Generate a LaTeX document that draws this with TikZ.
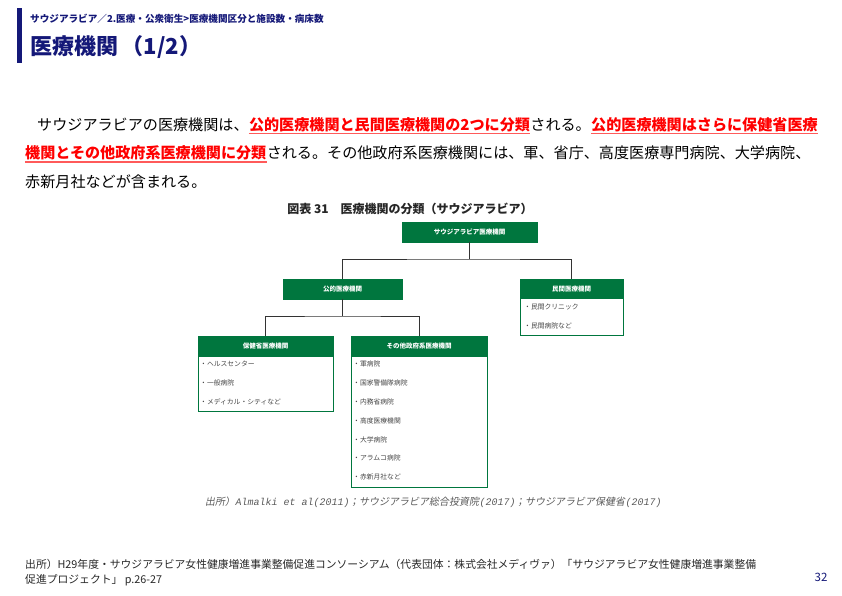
\documentclass[tikz,border=0pt]{standalone}
\usepackage{fontspec}
\setmainfont{Noto Sans CJK JP}
\newfontfamily\cjkslant[FakeSlant=0.18]{Noto Sans CJK JP}
\newfontfamily\srcmono[FakeSlant=0.18]{Liberation Mono}
\usetikzlibrary{calc}
\definecolor{navy}{RGB}{20,24,120}
\definecolor{hgreen}{RGB}{0,118,62}
\definecolor{redtxt}{RGB}{255,0,0}
\definecolor{uline}{RGB}{255,90,90}
\definecolor{itemgray}{RGB}{70,70,70}
\definecolor{srcgray}{RGB}{90,90,90}
\definecolor{foot}{RGB}{40,40,40}
\tikzset{
  para/.style={inner sep=0pt, anchor=base west, font=\fontsize{15.1}{18}\selectfont, text=black},
  redpart/.style={para, font=\bfseries\fontsize{15.1}{18}\selectfont, text=redtxt},
  ulinestyle/.style={draw=uline, line width=1.6pt},
  hdr/.style={fill=hgreen, draw=hgreen, line width=0.8pt, text=white, font=\bfseries\fontsize{6.5}{7}\selectfont, minimum height=20pt, inner sep=0pt},
  bodybox/.style={draw=hgreen, line width=0.8pt, fill=white, inner sep=0pt},
  item/.style={anchor=west, inner sep=0pt, font=\fontsize{6.8}{7}\selectfont, text=itemgray},
  conn/.style={draw=black!80, line width=0.8pt},
}
\begin{document}
\begin{tikzpicture}[x=1pt,y=-1pt]
\useasboundingbox (0,0) rectangle (842,595);
\fill[white] (0,0) rectangle (842,595);
% header
\fill[navy] (17,8) rectangle (22,63);
\node[anchor=west, inner sep=0pt, text=navy, font=\bfseries\fontsize{9.6}{10}\selectfont] (crumb) at (30,19) {サウジアラビア／2.医療・公衆衛生>医療機関区分と施設数・病床数};
\node[anchor=west, inner sep=0pt, text=navy, font=\bfseries\fontsize{22}{24}\selectfont] (title) at (30,47) {医療機関\,（1/2）};
% paragraph
\node[para] (p1a) at (37,130) {サウジアラビアの医療機関は、};
\node[redpart] (p1b) at (p1a.base east) {公的医療機関と民間医療機関の2つに分類};
\node[para] (p1c) at (p1b.base east) {される。};
\node[redpart] (p1d) at (p1c.base east) {公的医療機関はさらに保健省医療};
\node[redpart] (p2a) at (25,158.5) {機関とその他政府系医療機関に分類};
\node[para] (p2b) at (p2a.base east) {される。その他政府系医療機関には、軍、省庁、高度医療専門病院、大学病院、};
\node[para] (p3a) at (25,187) {赤新月社などが含まれる。};
\draw[ulinestyle] ($(p1b.base west)+(0,3.5)$) -- ($(p1b.base east)+(0,3.5)$);
\draw[ulinestyle] ($(p1d.base west)+(0,3.5)$) -- ($(p1d.base east)+(0,3.5)$);
\draw[ulinestyle] ($(p2a.base west)+(0,3.5)$) -- ($(p2a.base east)+(0,3.5)$);
% figure title
\node[inner sep=0pt, font=\bfseries\fontsize{12}{13}\selectfont, text=black!85] (ftitle) at (410,209) {図表 31\quad 医療機関の分類（サウジアラビア）};
% boxes
\node[hdr, minimum width=135pt] (top) at (469.5,232) {サウジアラビア医療機関};
\node[hdr, minimum width=119pt] (pub) at (342.5,289) {公的医療機関};
\node[bodybox, minimum width=103pt, minimum height=56pt, anchor=north] (privb) at (571.5,279) {};
\node[hdr, minimum width=103pt, minimum height=19pt, anchor=north] (priv) at (571.5,279) {民間医療機関};
\node[bodybox, minimum width=135pt, minimum height=75pt, anchor=north] (mohb) at (265.5,336) {};
\node[hdr, minimum width=135pt, anchor=north] (moh) at (265.5,336) {保健省医療機関};
\node[bodybox, minimum width=136pt, minimum height=151pt, anchor=north] (othb) at (419,336) {};
\node[hdr, minimum width=136pt, anchor=north] (oth) at (419,336) {その他政府系医療機関};
% connectors
\coordinate (j1) at (470,259);
\coordinate (j2) at (343,316);
\draw[conn] (top.south) -- (top.south |- j1);
\draw[conn] (pub.north) |- (j1) -| (priv.north);
\draw[conn] (pub.south) -- (pub.south |- j2);
\draw[conn] (moh.north) |- (j2) -| (oth.north);
% items
\node[item] (pv1) at (524,307) {・民間クリニック};
\node[item] (pv2) at (524,326) {・民間病院など};
\node[item] (m1) at (200,364) {・ヘルスセンター};
\node[item] (m2) at (200,383) {・一般病院};
\node[item] (m3) at (200,402) {・メディカル・シティなど};
\node[item] (o1) at (353,364) {・軍病院};
\node[item] (o2) at (353,383) {・国家警備隊病院};
\node[item] (o3) at (353,402) {・内務省病院};
\node[item] (o4) at (353,421) {・高度医療機関};
\node[item] (o5) at (353,440) {・大学病院};
\node[item] (o6) at (353,458) {・アラムコ病院};
\node[item] (o7) at (353,477) {・赤新月社など};
% figure source
\node[anchor=west, inner sep=0pt, text=srcgray, font=\cjkslant\fontsize{10}{11}\selectfont] (fsrc) at (205,502) {出所）{\srcmono Almalki et al(2011)}；サウジアラビア総合投資院{\srcmono (2017)}；サウジアラビア保健省{\srcmono (2017)}};
% footer
\node[anchor=west, inner sep=0pt, text=foot, font=\fontsize{10.8}{12}\selectfont] (f1) at (25,564) {出所）H29年度・サウジアラビア女性健康増進事業整備促進コンソーシアム（代表団体：株式会社メディヴァ）「サウジアラビア女性健康増進事業整備};
\node[anchor=west, inner sep=0pt, text=foot, font=\fontsize{10.8}{12}\selectfont] (f2) at (25,580) {促進プロジェクト」 p.26-27};
\node[inner sep=0pt, text=navy, font=\fontsize{11.5}{13}\selectfont] (pnum) at (821,577) {32};
\end{tikzpicture}
\end{document}
